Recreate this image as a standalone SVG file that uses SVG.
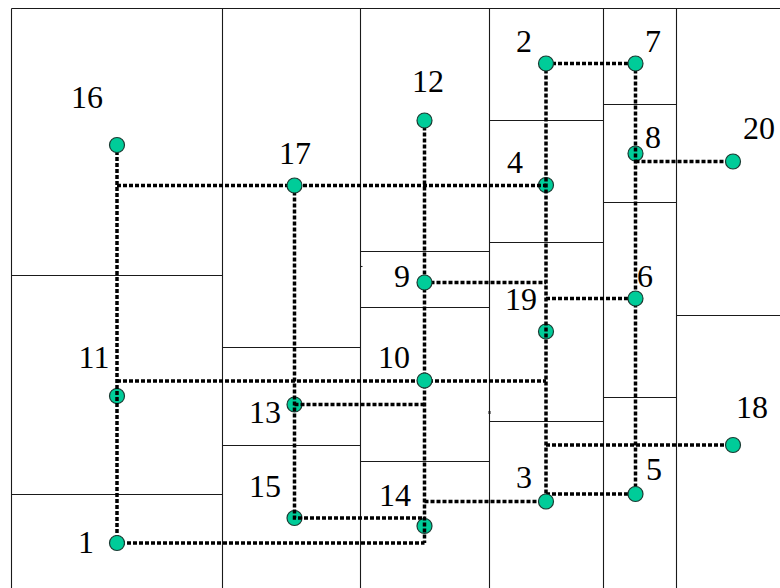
<svg xmlns="http://www.w3.org/2000/svg" width="780" height="588" viewBox="0 0 780 588">
<style>
.grid line{stroke:#1a1a1a;stroke-width:1.1;fill:none}
.n circle{fill:#00CC99;stroke:#1b3b33;stroke-width:1.2}
.n text{fill:#000;text-anchor:middle;font-family:"Liberation Serif","Times New Roman",serif;font-size:32px}
#connectors path{stroke:#000;stroke-width:3.5;stroke-dasharray:4 2;fill:none}
</style>
<rect width="780" height="588" fill="#fff"/>
<g class="grid">
<line x1="11.5" y1="8.5" x2="780" y2="8.5"/>
<line x1="11.5" y1="8.5" x2="11.5" y2="588"/>
<line x1="222.5" y1="8.5" x2="222.5" y2="588"/>
<line x1="360.5" y1="8.5" x2="360.5" y2="588"/>
<line x1="489.5" y1="8.5" x2="489.5" y2="588"/>
<line x1="603.5" y1="8.5" x2="603.5" y2="588"/>
<line x1="676.5" y1="8.5" x2="676.5" y2="588"/>
<line x1="11.5" y1="275.5" x2="222.5" y2="275.5"/>
<line x1="11.5" y1="494.5" x2="222.5" y2="494.5"/>
<line x1="222.5" y1="347.5" x2="360.5" y2="347.5"/>
<line x1="222.5" y1="445.5" x2="360.5" y2="445.5"/>
<line x1="360.5" y1="251.5" x2="489.5" y2="251.5"/>
<line x1="360.5" y1="307.5" x2="489.5" y2="307.5"/>
<line x1="360.5" y1="461.5" x2="489.5" y2="461.5"/>
<line x1="489.5" y1="120.5" x2="603.5" y2="120.5"/>
<line x1="489.5" y1="242.5" x2="603.5" y2="242.5"/>
<line x1="489.5" y1="421.5" x2="603.5" y2="421.5"/>
<line x1="603.5" y1="104.5" x2="676.5" y2="104.5"/>
<line x1="603.5" y1="202.5" x2="676.5" y2="202.5"/>
<line x1="603.5" y1="397.5" x2="676.5" y2="397.5"/>
<line x1="676.5" y1="315.5" x2="780" y2="315.5"/>
<line x1="360.5" y1="266.5" x2="362.5" y2="266.5"/>
<line x1="489.5" y1="411" x2="489.5" y2="414" style="stroke-width:2"/>
</g>
<g id="node-8" class="n"><circle cx="635.5" cy="153.5" r="7.5"/><text x="653" y="148">8</text></g>
<g id="node-4" class="n"><circle cx="546" cy="185" r="7.5"/><text x="515" y="173">4</text></g>
<g id="node-11" class="n"><circle cx="117" cy="396" r="7.5"/><text x="94" y="368">11</text></g>
<g id="node-19" class="n"><circle cx="546" cy="331.5" r="7.5"/><text x="521" y="310">19</text></g>
<g id="node-13" class="n"><circle cx="294.5" cy="404.5" r="7.5"/><text x="265" y="423">13</text></g>
<g id="node-15" class="n"><circle cx="294.5" cy="518" r="7.5"/><text x="265" y="497">15</text></g>
<g id="node-14" class="n"><circle cx="424.5" cy="526" r="7.5"/><text x="395" y="506">14</text></g>
<g id="connectors">
<path d="M117 145 V543 H424.5"/>
<path d="M117 185.5 H546"/>
<path d="M294.5 185.5 V518 H424.5"/>
<path d="M294.5 404.5 H424.5"/>
<path d="M424.5 120.5 V543"/>
<path d="M424.5 282.5 H546"/>
<path d="M117 381 H546"/>
<path d="M424.5 501.5 H546"/>
<path d="M546 63.5 H635.5"/>
<path d="M546 63.5 V501.5"/>
<path d="M635.5 63.5 V494"/>
<path d="M546 494 H635.5"/>
<path d="M635.5 161.5 H733"/>
<path d="M546 298.5 H635.5"/>
<path d="M546 445 H733"/>
</g>
<g id="node-16" class="n"><circle cx="117" cy="145" r="7.5"/><text x="87" y="108">16</text></g>
<g id="node-17" class="n"><circle cx="294.5" cy="185.5" r="7.5"/><text x="295" y="164">17</text></g>
<g id="node-12" class="n"><circle cx="424.5" cy="120.5" r="7.5"/><text x="428" y="92">12</text></g>
<g id="node-2" class="n"><circle cx="546" cy="63.5" r="7.5"/><text x="524" y="52">2</text></g>
<g id="node-7" class="n"><circle cx="635.5" cy="63.5" r="7.5"/><text x="653" y="52">7</text></g>
<g id="node-20" class="n"><circle cx="733" cy="161.5" r="7.5"/><text x="759" y="139">20</text></g>
<g id="node-9" class="n"><circle cx="424.5" cy="282.5" r="7.5"/><text x="402" y="287">9</text></g>
<g id="node-10" class="n"><circle cx="424.5" cy="380.5" r="7.5"/><text x="394" y="368">10</text></g>
<g id="node-6" class="n"><circle cx="635.5" cy="298.5" r="7.5"/><text x="645" y="287">6</text></g>
<g id="node-1" class="n"><circle cx="117" cy="543" r="7.5"/><text x="86" y="553">1</text></g>
<g id="node-3" class="n"><circle cx="546" cy="501.5" r="7.5"/><text x="524" y="488">3</text></g>
<g id="node-5" class="n"><circle cx="635.5" cy="494" r="7.5"/><text x="654" y="480">5</text></g>
<g id="node-18" class="n"><circle cx="733" cy="445" r="7.5"/><text x="752" y="418">18</text></g>
</svg>
